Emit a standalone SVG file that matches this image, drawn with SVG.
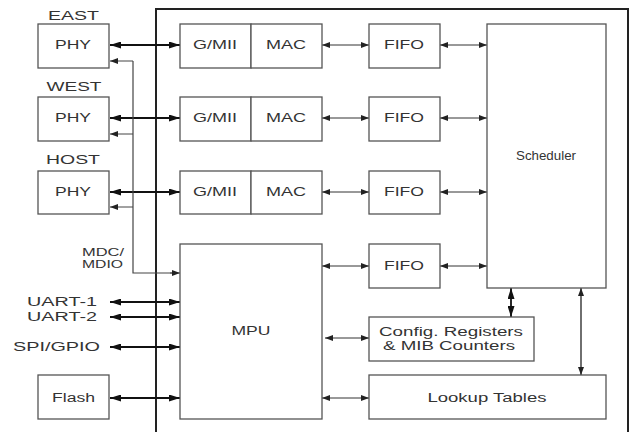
<svg xmlns="http://www.w3.org/2000/svg" width="632" height="432" viewBox="0 0 632 432">
<style>
.box{fill:#fff;stroke:#555;stroke-width:1.3}
.frame{fill:none;stroke:#222;stroke-width:2}
text{font-family:"Liberation Sans",Arial,sans-serif;font-size:12px;fill:#333}
.sm{font-size:10.5px}
.c{text-anchor:middle}
.e{text-anchor:end}
.thick{stroke:#111;stroke-width:1.8;fill:none;marker-start:url(#big);marker-end:url(#big)}
.thin{stroke:#333;stroke-width:1;fill:none;marker-start:url(#small);marker-end:url(#small)}
.one{stroke:#444;stroke-width:1;fill:none;marker-end:url(#small)}
.plain{stroke:#444;stroke-width:1.2;fill:none}
</style>
<defs>
<marker id="big" viewBox="0 0 11 7" refX="11" refY="3.5" markerWidth="11" markerHeight="7" markerUnits="userSpaceOnUse" orient="auto-start-reverse"><path d="M0,0 L11,3.5 L0,7 z" fill="#111"/></marker>
<marker id="small" viewBox="0 0 8 6" refX="8" refY="3" markerWidth="8" markerHeight="6" markerUnits="userSpaceOnUse" orient="auto-start-reverse"><path d="M0,0 L8,3 L0,6 z" fill="#222"/></marker>
</defs>
<rect class="frame" x="156" y="9" width="472" height="440"/>
<g id="connectors">
<line class="thick" x1="110" y1="45" x2="180" y2="45"/>
<line class="thick" x1="110" y1="118" x2="180" y2="118"/>
<line class="thick" x1="110" y1="192" x2="180" y2="192"/>
<polyline class="plain" points="133,61 133,273 172,273"/>
<line class="one" x1="133" y1="61" x2="110" y2="61"/>
<line class="one" x1="133" y1="134" x2="110" y2="134"/>
<line class="one" x1="133" y1="207" x2="110" y2="207"/>
<line class="one" x1="170" y1="273" x2="180" y2="273"/>
<line class="thick" x1="110" y1="302" x2="180" y2="302"/>
<line class="thick" x1="110" y1="317" x2="180" y2="317"/>
<line class="thick" x1="110" y1="347" x2="180" y2="347"/>
<line class="thick" x1="110" y1="398" x2="180" y2="398"/>
<line class="thin" x1="322" y1="45" x2="369" y2="45"/>
<line class="thin" x1="322" y1="118" x2="369" y2="118"/>
<line class="thin" x1="322" y1="192" x2="369" y2="192"/>
<line class="thin" x1="440" y1="45" x2="487" y2="45"/>
<line class="thin" x1="440" y1="118" x2="487" y2="118"/>
<line class="thin" x1="440" y1="192" x2="487" y2="192"/>
<line class="thin" x1="322" y1="266" x2="369" y2="266"/>
<line class="thin" x1="440" y1="266" x2="487" y2="266"/>
<line class="thin" x1="325" y1="338" x2="369" y2="338"/>
<line class="thin" x1="322" y1="398" x2="369" y2="398"/>
<line class="thick" x1="511" y1="288" x2="511" y2="317"/>
<line class="thin" style="stroke-width:1.4" x1="581" y1="288" x2="581" y2="375"/>
</g>
<g id="east">
<text class="c" x="73.5" y="20" textLength="51" lengthAdjust="spacingAndGlyphs">EAST</text>
<rect class="box" x="38" y="24" width="71" height="44"/>
<text class="c" x="73" y="49" textLength="36" lengthAdjust="spacingAndGlyphs">PHY</text>
</g>
<g id="west">
<text class="c" x="74" y="91" textLength="55" lengthAdjust="spacingAndGlyphs">WEST</text>
<rect class="box" x="38" y="97" width="71" height="44"/>
<text class="c" x="73" y="122" textLength="36" lengthAdjust="spacingAndGlyphs">PHY</text>
</g>
<g id="host">
<text class="c" x="73" y="164" textLength="54" lengthAdjust="spacingAndGlyphs">HOST</text>
<rect class="box" x="38" y="171" width="71" height="43"/>
<text class="c" x="73" y="196" textLength="36" lengthAdjust="spacingAndGlyphs">PHY</text>
</g>
<g id="labels">
<text class="sm" x="82" y="256" textLength="42" lengthAdjust="spacingAndGlyphs">MDC/</text>
<text class="sm" x="82" y="268" textLength="41" lengthAdjust="spacingAndGlyphs">MDIO</text>
<text x="27" y="306" textLength="70" lengthAdjust="spacingAndGlyphs">UART-1</text>
<text x="27" y="321" textLength="70" lengthAdjust="spacingAndGlyphs">UART-2</text>
<text x="13" y="351" textLength="87" lengthAdjust="spacingAndGlyphs">SPI/GPIO</text>
</g>
<g id="flash">
<rect class="box" x="38" y="375" width="71" height="44"/>
<text class="c" x="73.5" y="402" textLength="43" lengthAdjust="spacingAndGlyphs">Flash</text>
</g>
<g id="gmii1">
<rect class="box" x="180" y="24" width="71" height="44"/>
<text class="c" x="215" y="49" textLength="44" lengthAdjust="spacingAndGlyphs">G/MII</text>
</g>
<g id="mac1">
<rect class="box" x="251" y="24" width="71" height="44"/>
<text class="c" x="286" y="49" textLength="40" lengthAdjust="spacingAndGlyphs">MAC</text>
</g>
<g id="gmii2">
<rect class="box" x="180" y="97" width="71" height="44"/>
<text class="c" x="215" y="122" textLength="44" lengthAdjust="spacingAndGlyphs">G/MII</text>
</g>
<g id="mac2">
<rect class="box" x="251" y="97" width="71" height="44"/>
<text class="c" x="286" y="122" textLength="40" lengthAdjust="spacingAndGlyphs">MAC</text>
</g>
<g id="gmii3">
<rect class="box" x="180" y="171" width="71" height="43"/>
<text class="c" x="215" y="196" textLength="44" lengthAdjust="spacingAndGlyphs">G/MII</text>
</g>
<g id="mac3">
<rect class="box" x="251" y="171" width="71" height="43"/>
<text class="c" x="286" y="196" textLength="40" lengthAdjust="spacingAndGlyphs">MAC</text>
</g>
<g id="fifo1">
<rect class="box" x="369" y="24" width="71" height="44"/>
<text class="c" x="404" y="49" textLength="40" lengthAdjust="spacingAndGlyphs">FIFO</text>
</g>
<g id="fifo2">
<rect class="box" x="369" y="97" width="71" height="44"/>
<text class="c" x="404" y="122" textLength="40" lengthAdjust="spacingAndGlyphs">FIFO</text>
</g>
<g id="fifo3">
<rect class="box" x="369" y="171" width="71" height="43"/>
<text class="c" x="404" y="196" textLength="40" lengthAdjust="spacingAndGlyphs">FIFO</text>
</g>
<g id="fifo4">
<rect class="box" x="369" y="244" width="71" height="44"/>
<text class="c" x="404" y="270" textLength="40" lengthAdjust="spacingAndGlyphs">FIFO</text>
</g>
<g id="scheduler">
<rect class="box" x="487" y="24" width="119" height="264"/>
<text class="c" x="546" y="160" textLength="60" lengthAdjust="spacingAndGlyphs">Scheduler</text>
</g>
<g id="mpu">
<rect class="box" x="180" y="244" width="142" height="175"/>
<text class="c" x="251" y="335" textLength="39" lengthAdjust="spacingAndGlyphs">MPU</text>
</g>
<g id="config">
<rect class="box" x="369" y="317" width="165" height="44"/>
<text class="c" x="451" y="336" textLength="144" lengthAdjust="spacingAndGlyphs">Config. Registers</text>
<text class="c" x="449" y="350" textLength="132" lengthAdjust="spacingAndGlyphs">&amp; MIB Counters</text>
</g>
<g id="lookup">
<rect class="box" x="369" y="375" width="237" height="44"/>
<text class="c" x="487" y="402" textLength="119" lengthAdjust="spacingAndGlyphs">Lookup Tables</text>
</g>
</svg>
